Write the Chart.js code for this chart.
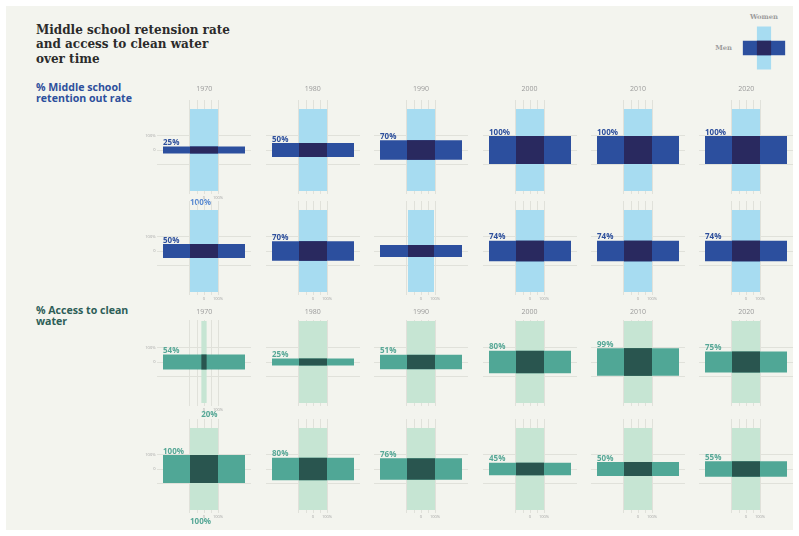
<!DOCTYPE html>
<html>
<head>
<meta charset="utf-8">
<script src="https://cdn.jsdelivr.net/npm/chart.js@4.4.1/dist/chart.umd.min.js"></script>
<style>
  html, body { margin: 0; padding: 0; background: #fff; }
  body { width: 799px; height: 536px; position: relative; overflow: hidden; }
  #panel { position: absolute; left: 6px; top: 6px; width: 787px; height: 524px; background: #f3f4ee; }
  .title { position: absolute; left: 36px; top: 23px; font: bold 12px/14.4px "DejaVu Serif", serif; color: #2b2b2b; white-space: nowrap; }
  .sub { position: absolute; left: 36px; font: bold 10.6px/11px "Open Sans", sans-serif; white-space: nowrap; }
  .year { position: absolute; width: 40px; margin-left: -20px; text-align: center; font: 7px "Open Sans", sans-serif; color: #9a9a9a; z-index: 2; }
  .leg { position: absolute; font: bold 6.8px "DejaVu Serif", serif; color: #9d9d9d; }
  canvas { position: absolute; }
</style>
</head>
<body>
<div id="panel"></div>
<div class="title">Middle school retension rate<br>and access to clean water<br>over time</div>
<div class="sub" style="top:82px;color:#2d4f9c">% Middle school<br>retention out rate</div>
<div class="sub" style="top:305px;color:#2d5e57">% Access to clean<br>water</div>
<div class="leg" style="left:744px;top:13px;width:40px;text-align:center">Women</div>
<div class="leg" style="left:700px;top:44px;width:32px;text-align:right">Men</div>

<script>
const years = ["1970", "1980", "1990", "2000", "2010", "2020"];

// % middle school retention: men = horizontal bar thickness, women = vertical bar width
const schoolMen1 = [25, 50, 70, 100, 100, 100];
const schoolWomen1 = [100, 100, 100, 100, 100, 100];
const schoolMen2 = [50, 70, 43, 74, 74, 74];
const schoolWomen2 = [100, 100, 93, 100, 100, 100];

// % access to clean water
const waterMen1 = [54, 25, 51, 80, 99, 75];
const waterWomen1 = [20, 100, 100, 100, 100, 100];
const waterMen2 = [100, 80, 76, 45, 50, 55];
const waterWomen2 = [100, 100, 100, 100, 100, 100];

// printed value labels
const schoolMenText1 = ["25%", "50%", "70%", "100%", "100%", "100%"];
const schoolMenText2 = ["50%", "70%", "", "74%", "74%", "74%"];
const waterMenText1 = ["54%", "25%", "51%", "80%", "99%", "75%"];
const waterMenText2 = ["100%", "80%", "76%", "45%", "50%", "55%"];
const schoolWomenText1 = ["100%", "", "", "", "", ""];
const schoolWomenText2 = ["", "", "", "", "", ""];
const waterWomenText1 = ["20%", "", "", "", "", ""];
const waterWomenText2 = ["100%", "", "", "", "", ""];

// axis ticks (percent)
const xTicks = [-100, -50, 0, 50, 100];
const yTicks = [-100, 0, 100];

const ARM = 293; // half length of each arm of the cross, same units as the values
const blue = { light: "#a7dcf1", mid: "#2c4f9e", dark: "#29295f", text: "#2d4f9c", womenText: "#5a8ad0" };
const green = { light: "#c6e5d3", mid: "#50a796", dark: "#29554f", text: "#56a796", womenText: "#56a796" };
const gridColor = "#e0e1da";

const colX = years.map((y, i) => 204.3 + 108.4 * i);
const rows = [
  { men: schoolMen1, women: schoolWomen1, menText: schoolMenText1, womenText: schoolWomenText1, theme: blue, cy: 150, top: 50, xLabels: "first" },
  { men: schoolMen2, women: schoolWomen2, menText: schoolMenText2, womenText: schoolWomenText2, theme: blue, cy: 251, top: 50, xLabels: "all" },
  { men: waterMen1, women: waterWomen1, menText: waterMenText1, womenText: waterWomenText1, theme: green, cy: 362, top: 42, xLabels: "first" },
  { men: waterMen2, women: waterWomen2, menText: waterMenText2, womenText: waterWomenText2, theme: green, cy: 469, top: 50, xLabels: "all" },
];

function makeCross(cx, cy, o) {
  const pad = o.pad;
  const c = document.createElement("canvas");
  const w = o.areaW + pad.left + pad.right + o.yAxisW;
  const h = o.areaTop + o.areaBottom + pad.top + pad.bottom + o.xAxisH;
  c.width = w;
  c.height = h;
  c.style.left = Math.round(cx - o.areaW / 2 - pad.left - o.yAxisW) + "px";
  c.style.top = Math.round(cy - o.areaTop - pad.top) + "px";
  document.body.appendChild(c);

  const half = o.areaW / 2 / o.ppu;
  const t = o.theme;

  const labels = {
    id: "crossLabels",
    afterDatasetsDraw(chart) {
      const { ctx, scales } = chart;
      ctx.save();
      ctx.font = 'bold 8px "Open Sans"';
      ctx.textAlign = "left";
      ctx.textBaseline = "alphabetic";
      if (o.menText) {
        ctx.fillStyle = t.text;
        ctx.fillText(o.menText, scales.x.getPixelForValue(-ARM), scales.y.getPixelForValue(o.men) - 1.5);
      }
      if (o.womenText) {
        ctx.fillStyle = t.womenText;
        ctx.fillText(o.womenText, scales.x.getPixelForValue(-o.women), scales.y.getPixelForValue(-ARM) + 14);
      }
      ctx.restore();
    }
  };

  const tickFont = { size: 4, family: "Open Sans" };
  new Chart(c, {
    type: "line",
    data: {
      datasets: [
        { data: [{ x: -o.women, y: o.men }, { x: o.women, y: o.men }], fill: { value: -o.men }, backgroundColor: t.dark },
        { data: [{ x: -ARM, y: o.men }, { x: ARM, y: o.men }], fill: { value: -o.men }, backgroundColor: t.mid },
        { data: [{ x: -o.women, y: ARM }, { x: o.women, y: ARM }], fill: { value: -ARM }, backgroundColor: t.light },
      ]
    },
    options: {
      responsive: false,
      animation: false,
      events: [],
      layout: { padding: pad },
      elements: {
        point: { radius: 0, hoverRadius: 0 },
        line: { borderWidth: 0, borderColor: "transparent", tension: 0 }
      },
      plugins: { legend: { display: false }, tooltip: { enabled: false } },
      scales: {
        x: {
          type: "linear", min: -half, max: half,
          afterFit: s => { s.height = o.xAxisH; },
          afterBuildTicks: s => { s.ticks = xTicks.map(v => ({ value: v })); },
          grid: { display: o.grid, color: gridColor, drawTicks: false },
          border: { display: false },
          ticks: {
            display: o.xLabels, padding: 1, font: tickFont, color: "#a4a4a4",
            maxRotation: 0, autoSkip: false,
            callback: v => v === 0 ? "0" : v === 100 ? "100%" : ""
          }
        },
        y: {
          type: "linear", min: -o.areaBottom / o.ppu, max: o.areaTop / o.ppu,
          afterFit: s => { s.width = o.yAxisW; },
          afterBuildTicks: s => { s.ticks = yTicks.map(v => ({ value: v })); },
          grid: { display: o.grid, color: gridColor, drawTicks: false },
          border: { display: false },
          ticks: {
            display: o.yLabels, padding: 1.5, font: tickFont, color: "#a4a4a4", autoSkip: false,
            callback: v => v === 0 ? "0" : v === 100 ? "100%" : ""
          }
        }
      }
    },
    plugins: [labels]
  });
}

rows.forEach(r => {
  years.forEach((yr, i) => {
    makeCross(colX[i], r.cy, {
      men: r.men[i], women: r.women[i],
      menText: r.menText[i], womenText: r.womenText[i],
      theme: r.theme, ppu: 0.14,
      areaW: 94, areaTop: r.top, areaBottom: 44,
      yAxisW: 20, xAxisH: 8,
      pad: { left: 0, right: 6, top: 4, bottom: 12 },
      grid: true, yLabels: i === 0, xLabels: r.xLabels === "all" || i === 0
    });
  });
});

// year headers
[89, 312].forEach(y => {
  years.forEach((yr, i) => {
    const d = document.createElement("div");
    d.className = "year";
    d.style.left = colX[i] + "px";
    d.style.top = (y - 5) + "px";
    d.textContent = yr;
    document.body.appendChild(d);
  });
});

// legend cross
makeCross(763.7, 48.3, {
  men: 100, women: 100, menText: "", womenText: "",
  theme: blue, ppu: 0.073,
  areaW: 52, areaTop: 26, areaBottom: 26,
  yAxisW: 0, xAxisH: 0,
  pad: { left: 2, right: 2, top: 2, bottom: 2 },
  grid: false, yLabels: false, xLabels: false
});
</script>
</body>
</html>
